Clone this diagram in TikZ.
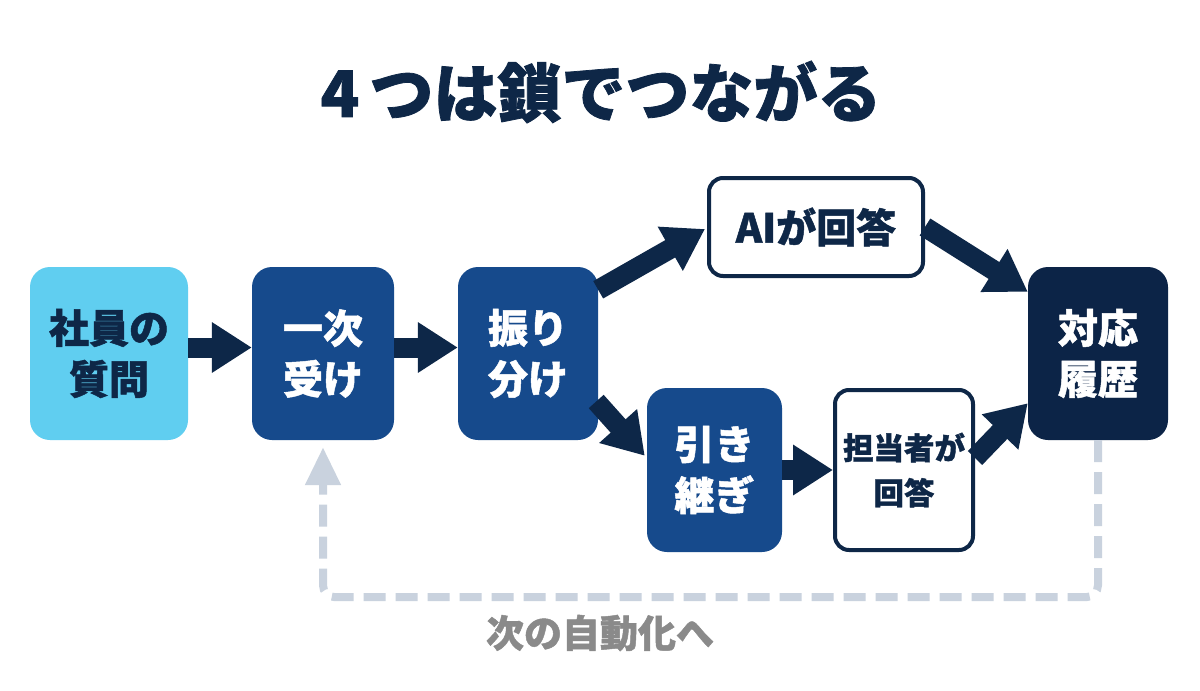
\documentclass[tikz,border=0pt]{standalone}
\usepackage{fontspec}
\setmainfont{Noto Sans CJK JP}[BoldFeatures={FakeBold=1.2}]
\usetikzlibrary{arrows.meta,calc}
\definecolor{navy}{HTML}{0E2747}
\definecolor{boxblue}{HTML}{164A8C}
\definecolor{darkbox}{HTML}{0C2447}
\definecolor{lightblue}{HTML}{60CEF0}
\definecolor{arrowc}{HTML}{0D2748}
\definecolor{fbgray}{HTML}{C9D2DE}
\definecolor{labelgray}{HTML}{8A8A8A}
\begin{document}
\begin{tikzpicture}[x=1pt,y=-1pt,
  box/.style={rounded corners=20pt, inner sep=0pt, align=center,
    font=\bfseries\fontsize{40pt}{51pt}\selectfont},
  lightbox/.style={box, fill=lightblue, text=navy},
  bluebox/.style={box, fill=boxblue, text=white},
  darkboxst/.style={box, fill=darkbox, text=white},
  whitebox/.style={box, rounded corners=14pt, fill=white, draw=navy, line width=4pt, text=navy},
  flow/.style={draw=arrowc, line width=20pt, -{Triangle[length=40pt,width=48pt]}, arrowc},
  feedback/.style={draw=fbgray, line width=8pt, dash pattern=on 22pt off 10pt,
    rounded corners=12pt, -{Triangle[length=38pt,width=34pt]}, fbgray}
]
\useasboundingbox (0,0) rectangle (1200,691);
\fill[white] (0,0) rectangle (1200,691);

\node[font=\bfseries\fontsize{64pt}{72pt}\selectfont, text=navy] (title) at (601,92) {4\hspace{10pt}つは鎖でつながる};

\node[lightbox, minimum width=158pt, minimum height=173pt] (q) at (109,353.5) {社員の\\質問};
\node[bluebox, minimum width=142pt, minimum height=173pt] (first) at (323,353.5) {一次\\受け};
\node[bluebox, minimum width=140pt, minimum height=173pt] (sort) at (528,353.5) {振り\\分け};
\node[whitebox, minimum width=214pt, minimum height=98pt] (ai) at (816,227) {AIが回答};
\node[bluebox, minimum width=135pt, minimum height=164pt] (hand) at (714.5,470) {引き\\継ぎ};
\node[whitebox, minimum width=138pt, minimum height=160pt,
  font=\bfseries\fontsize{30.5pt}{45pt}\selectfont] (staff) at (904,470) {担当者が\\回答};
\node[darkboxst, minimum width=140pt, minimum height=173pt] (hist) at (1098,353.5) {対応\\履歴};

\draw[flow] ($(q.east)+(0,-6)$) -- ($(first.west)+(0,-6)$);
\draw[flow] ($(first.east)+(0,-6)$) -- ($(sort.west)+(0,-6)$);
\draw[flow] ($(sort.north east)+(0,23)$) -- ($(ai.west)+(-2,2)$);
\draw[flow] ($(sort.east)+(-2,48)$) -- ($(hand.north west)+(-2,68)$);
\draw[flow] (hand.east) -- (staff.west);
\draw[flow] (ai.east) -- ($(hist.north west)+(0,25)$);
\draw[flow] ($(staff.east)+(0,-12)$) -- ($(hist.south west)+(0,-37)$);

\draw[feedback] (hist.south) -- ++(0,157) -| ($(first.south)+(0,7)$);

\node[font=\bfseries\fontsize{38pt}{44pt}\selectfont, text=labelgray] (next) at (600,633) {次の自動化へ};
\end{tikzpicture}
\end{document}
